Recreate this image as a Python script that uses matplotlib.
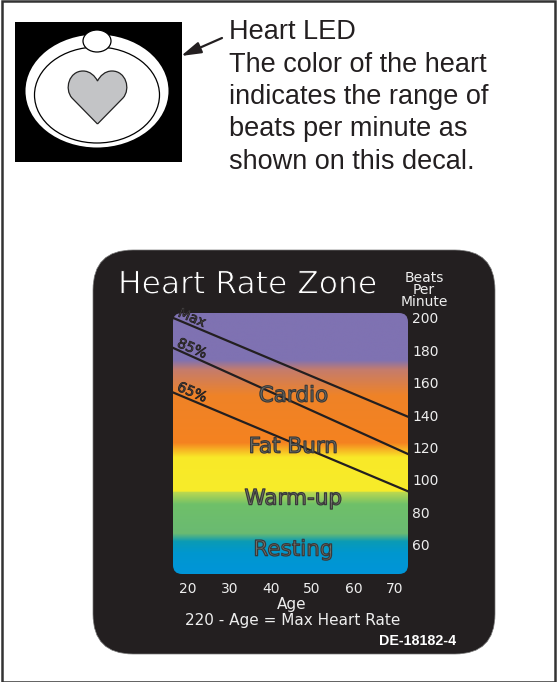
#coding: utf-8
import matplotlib
matplotlib.use('Agg')
import matplotlib.pyplot as plt
import matplotlib.patheffects as pe
import numpy as np
from matplotlib.colors import LinearSegmentedColormap
from matplotlib.patches import Ellipse, FancyBboxPatch, PathPatch, Rectangle
from matplotlib.path import Path

W, H = 557, 682
DARK = '#231f20'

age_ticks = [20, 30, 40, 50, 60, 70]
bpm_ticks = [60, 80, 100, 120, 140, 160, 180, 200]
line_age = [16.4, 73.2]
max_line = [200, 139]
line_85 = [181.5, 116]
line_65 = [154, 93]

# gradient stops, bpm -> colour
stop_bpm = [42, 55, 62, 67, 85, 92.5, 93, 114, 123, 152, 168, 174, 203]
stop_col = ['#0095d9', '#0097cf', '#0a9bb5', '#6aba72', '#6fc069', '#bcd84f', '#f7ec2a',
            '#f9e928', '#f58220', '#ef8327', '#c57c6c', '#7f72b2', '#7f72b2']
zones = ['Cardio', 'Fat Burn', 'Warm-up', 'Resting']
zone_bpm = [152, 120.5, 88.5, 57]
zone_age = [45.5, 45.5, 45.5, 45.5]
pct_labels = ['Max', '85%', '65%']
pct_age = [21, 21, 21]
pct_bpm = [200, 181, 154]
decal_text = ['The color of the heart', 'indicates the range of', 'beats per minute as', 'shown on this decal.']

fig = plt.figure(figsize=(W / 100, H / 100), dpi=100)
bg = fig.add_axes([0, 0, 1, 1])
bg.set_xlim(0, W)
bg.set_ylim(H, 0)
bg.axis('off')

bg.add_patch(Rectangle((2, 1), W - 4, H - 1.5, fc='white', ec='#333333', lw=1.8))

# LED picture
bg.add_patch(Rectangle((15, 22), 167, 140, fc='black', ec='none'))
bg.add_patch(Ellipse((97, 91), 143, 113, fc='white', ec='none'))
bg.add_patch(Ellipse((97, 95), 125, 96, fc='white', ec='black', lw=0.9))
bg.add_patch(Ellipse((97, 41), 28, 22, fc='white', ec='black', lw=0.9))
heart = Path([(97.5, 124), (72, 98), (64, 89), (69, 71), (83, 71), (90, 71), (95, 76), (97.5, 81),
              (100, 76), (105, 71), (112, 71), (126, 71), (131, 89), (123, 98), (97.5, 124)],
             [Path.MOVETO, Path.LINETO, Path.CURVE4, Path.CURVE4, Path.CURVE4, Path.CURVE4, Path.CURVE4,
              Path.CURVE4, Path.CURVE4, Path.CURVE4, Path.CURVE4, Path.CURVE4, Path.CURVE4, Path.CURVE4,
              Path.LINETO])
bg.add_patch(PathPatch(heart, fc='#c3c4c6', ec='#222222', lw=0.9))
bg.annotate('', xy=(181, 56), xytext=(222, 38),
            arrowprops=dict(arrowstyle='-|>,head_width=0.35,head_length=1.2', color=DARK, lw=1.6,
                            shrinkA=0, shrinkB=0))

bg.text(229, 32, 'Heart LED', fontsize=19.5, family='Liberation Sans', color=DARK, va='center')
for i, t in enumerate(decal_text):
    bg.text(229, 64.5 + i * 32.5, t, fontsize=19.5, family='Liberation Sans', color=DARK, va='center')

# decal
bg.add_patch(FancyBboxPatch((93, 250), 402, 404, boxstyle='round,pad=0,rounding_size=40',
                            fc=DARK, ec='#777777', lw=0.5))

# dark edge on top of the glyphs makes the title look lighter
bg.text(118, 285, 'Heart Rate Zone', fontsize=22.6, family='DejaVu Sans', color='white', va='center',
        path_effects=[pe.Stroke(linewidth=0.7, foreground=DARK)])
bg.text(424, 290, 'Beats\nPer\nMinute', fontsize=10, family='DejaVu Sans', color='#eeeeee', va='center', ha='center',
        linespacing=0.85)
bg.text(292, 604, 'Age', fontsize=11, family='DejaVu Sans', color='#eeeeee', va='center', ha='center')
bg.text(292.5, 620, '220 - Age = Max Heart Rate', fontsize=11, family='DejaVu Sans', color='#eeeeee', va='center', ha='center')
bg.text(456, 641, 'DE-18182-4', fontsize=10.3, family='Liberation Sans', fontweight='bold', color='white', va='center', ha='right')

# chart
x0, x1, y0, y1 = 173, 408, 313, 574
ax = fig.add_axes([x0 / W, 1 - y1 / H, (x1 - x0) / W, (y1 - y0) / H])
ax.set_xlim(line_age)
ax.set_ylim(stop_bpm[0], stop_bpm[-1])
ax.patch.set_alpha(0)
for s in ax.spines.values():
    s.set_visible(False)

pos = (np.array(stop_bpm) - stop_bpm[0]) / (stop_bpm[-1] - stop_bpm[0])
cmap = LinearSegmentedColormap.from_list('zones', list(zip(pos, stop_col)), N=1024)
im = ax.imshow(np.linspace(0, 1, 1024).reshape(-1, 1), cmap=cmap, origin='lower', aspect='auto',
               extent=[line_age[0], line_age[1], stop_bpm[0], stop_bpm[-1]], zorder=1)
clip = FancyBboxPatch((x0, y0), x1 - x0, y1 - y0, boxstyle='round,pad=0,rounding_size=9',
                      transform=bg.transData, fc='none', ec='none')
im.set_clip_path(clip)

ax.plot(line_age, max_line, color=DARK, lw=1.6, zorder=3, clip_on=False)
ax.plot(line_age, line_85, color=DARK, lw=1.6, zorder=3, clip_on=False)
ax.plot(line_age, line_65, color=DARK, lw=1.6, zorder=3, clip_on=False)

ax.yaxis.tick_right()
ax.set_xticks(age_ticks)
ax.set_yticks(bpm_ticks)
ax.tick_params(length=0, labelcolor='#eeeeee', labelsize=10)
ax.tick_params(axis='x', pad=6)
ax.tick_params(axis='y', pad=3)

for t, xv, yv in zip(zones, zone_age, zone_bpm):
    ax.text(xv, yv, t, fontsize=15.5, family='DejaVu Sans', color='#77776e', ha='center', va='center', zorder=4,
            path_effects=[pe.Stroke(linewidth=0.9, foreground='#3a3a3a')])
for t, xv, yv in zip(pct_labels, pct_age, pct_bpm):
    ax.text(xv, yv, t, fontsize=10, family='DejaVu Sans', color='#555555', rotation=-23, ha='center', va='center',
            rotation_mode='anchor', zorder=4, path_effects=[pe.Stroke(linewidth=0.6, foreground=DARK)])

fig.savefig('out.png', dpi=100)
